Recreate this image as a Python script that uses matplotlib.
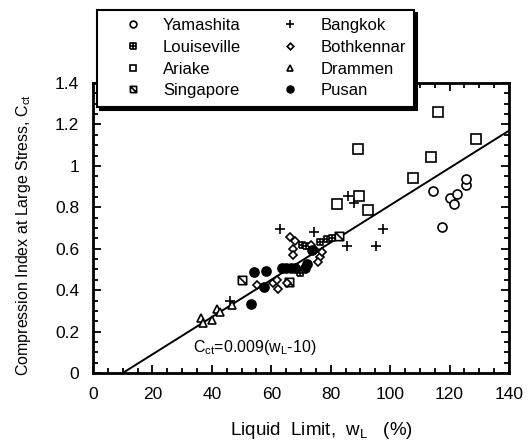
import matplotlib
matplotlib.use('Agg')
from matplotlib import pyplot as plt
from matplotlib.path import Path

plt.rcParams['font.family'] = ['Liberation Sans', 'DejaVu Sans']
plt.rcParams['mathtext.fontset'] = 'custom'
plt.rcParams['mathtext.rm'] = 'Liberation Sans'
plt.rcParams['mathtext.it'] = 'Liberation Sans'

# data (liquid limit %, compression index)
yamashita_x = [114.5, 117.5, 120.2, 121.5, 122.4, 125.4, 125.4]
yamashita_y = [0.879, 0.707, 0.844, 0.816, 0.865, 0.908, 0.937]

louiseville_x = [70.2, 71.6, 76.4, 78.7, 80.3, 69.6]
louiseville_y = [0.618, 0.612, 0.634, 0.647, 0.651, 0.485]

ariake_x = [116.0, 128.8, 89.3, 113.7, 107.8, 89.4, 82.0, 92.7]
ariake_y = [1.262, 1.129, 1.080, 1.042, 0.939, 0.855, 0.816, 0.787]

singapore_x = [50.3, 66.1, 82.8]
singapore_y = [0.449, 0.438, 0.663]

bangkok_x = [62.9, 74.5, 97.7, 85.4, 95.1, 85.9, 87.7, 46.1, 73.0]
bangkok_y = [0.694, 0.683, 0.694, 0.615, 0.615, 0.855, 0.823, 0.349, 0.600]

bothkennar_x = [66.3, 68.0, 67.4, 67.4, 55.3, 60.7, 62.4, 61.8, 65.2, 74.7, 76.4, 75.8, 77.0, 73.3]
bothkennar_y = [0.655, 0.638, 0.599, 0.570, 0.425, 0.433, 0.404, 0.449, 0.433, 0.594, 0.562, 0.538, 0.586, 0.617]

drammen_x = [36.2, 37.1, 40.2, 41.6, 42.7, 46.7]
drammen_y = [0.264, 0.243, 0.256, 0.308, 0.296, 0.329]

pusan_x = [53.2, 54.3, 58.2, 57.5, 63.5, 65.0, 66.6, 68.0, 71.2, 72.0, 73.6]
pusan_y = [0.331, 0.486, 0.494, 0.413, 0.506, 0.506, 0.506, 0.506, 0.506, 0.525, 0.594]

fit_x = [10, 140]
fit_slope = 0.009


# square markers with inner lines
M, L = Path.MOVETO, Path.LINETO
grid_square = Path([(-1, -1), (1, -1), (1, 1), (-1, 1), (-1, -1), (0, -1), (0, 1), (-1, 0), (1, 0)],
                   [M, L, L, L, L, M, L, M, L])
slash_square = Path([(-1, -1), (1, -1), (1, 1), (-1, 1), (-1, -1), (-1, 1), (1, -1)],
                    [M, L, L, L, L, M, L])

fig = plt.figure(figsize=(5.29, 4.41), dpi=100)
ax = fig.add_axes([93 / 529, 1 - 373 / 441, (509 - 93) / 529, (373 - 83) / 441])

ax.plot(fit_x, [fit_slope * (w - 10) for w in fit_x], color='black', lw=1.4, zorder=1)

mk = dict(ls='none', color='black', mec='black', mew=1.2)
ax.plot(yamashita_x, yamashita_y, marker='o', ms=6.5, mfc='white', label='Yamashita', **mk)
ax.plot(louiseville_x, louiseville_y, marker=grid_square, ms=5, mfc='white', label='Louiseville', **mk)
ax.plot(ariake_x, ariake_y, marker='s', ms=6.5, mfc='white', label='Ariake', **mk)
ax.plot(singapore_x, singapore_y, marker=slash_square, ms=6, mfc='white', label='Singapore', **mk)
ax.plot(bangkok_x, bangkok_y, marker='+', ms=7, label='Bangkok', **mk)
ax.plot(bothkennar_x, bothkennar_y, marker='D', ms=4.5, mfc='white', label='Bothkennar', **mk)
ax.plot(drammen_x, drammen_y, marker='^', ms=6, mfc='white', label='Drammen', **mk)
ax.plot(pusan_x, pusan_y, marker='o', ms=6.5, mfc='black', label='Pusan', **mk)

ax.text(33.5, 0.1, r'C$_{\mathrm{ct}}$=0.009(w$_{\mathrm{L}}$-10)', fontsize=11.5)

ax.set_xlim(0, 140)
ax.set_ylim(0, 1.4)
ax.set_xticks(range(0, 141, 20))
ax.set_xticks(range(0, 141, 5), minor=True)
ax.set_yticks([0, 0.2, 0.4, 0.6, 0.8, 1.0, 1.2, 1.4])
ax.set_yticklabels(['0', '0.2', '0.4', '0.6', '0.8', '1', '1.2', '1.4'])
ax.set_yticks([i * 0.05 for i in range(29)], minor=True)
ax.tick_params(which='both', direction='in', top=True, right=True, labelsize=12.5, width=1.3)
ax.tick_params(which='major', length=6)
ax.tick_params(which='minor', length=3.5)
ax.tick_params(axis='x', pad=10)
ax.tick_params(axis='y', pad=10)
for s in ax.spines.values():
    s.set_linewidth(2)

ax.set_xlabel(r'Liquid  Limit,  w$_{\mathrm{L}}$   (%)', fontsize=13.5)
ax.xaxis.set_label_coords(0.55, -0.162)
ax.set_ylabel(r'Compression Index at Large Stress, C$_{\mathrm{ct}}$', fontsize=11.5)
ax.yaxis.set_label_coords(-0.145, 0.475)

leg = ax.legend(ncol=2, loc='upper left', bbox_to_anchor=(97 / 529, 1 - 10 / 441),
                bbox_transform=fig.transFigure, fontsize=12, frameon=True, fancybox=False,
                shadow={'color': 'black', 'alpha': 1, 'ox': 2.5, 'oy': -2.5},
                borderaxespad=0, borderpad=0.5, handlelength=3.3, handletextpad=0.15,
                columnspacing=1.3, labelspacing=0.4, markerscale=0.75)
leg.get_frame().set_edgecolor('black')
leg.get_frame().set_linewidth(1.5)
leg.set_zorder(5)

plt.savefig('out.png', dpi=100)
